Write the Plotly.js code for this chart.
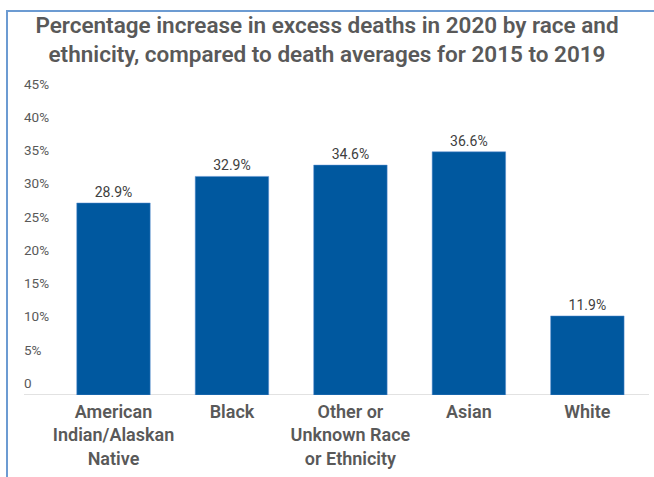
<!DOCTYPE html>
<html>
<head>
<meta charset="utf-8">
<script src="https://cdn.plot.ly/plotly-3.0.1.min.js"></script>
<style>
  html, body { margin: 0; padding: 0; background: #fff; }
  #wrap { position: relative; width: 654px; height: 477px; }
  #chart { position: absolute; left: 0; top: 0; width: 654px; height: 477px; }
  #frame { position: absolute; left: 6px; top: 10px; width: 648px; height: 467px;
           border-left: 2px solid #6c9bd2; border-top: 2px solid #6c9bd2; box-sizing: border-box; pointer-events: none; }
</style>
</head>
<body>
<div id="wrap">
  <div id="chart"></div>
  <div id="frame"></div>
</div>
<script>
const categories = ['American<br>Indian/Alaskan<br>Native', 'Black', 'Other or<br>Unknown Race<br>or Ethnicity', 'Asian', 'White'];
const values = [28.9, 32.9, 34.6, 36.6, 11.9];
const valueLabels = ['28.9%', '32.9%', '34.6%', '36.6%', '11.9%'];
const tickValues = [0, 5, 10, 15, 20, 25, 30, 35, 40, 45];
const tickLabels = ['0', '5%', '10%', '15%', '20%', '25%', '30%', '35%', '40%', '45%'];

const W = 654, H = 477;
const padL = 20, padR = 5;
const paperW = W - padL - padR;
const plotX0 = 54.25, plotX1 = 646.6;
const axisLineX0 = 24, axisLineX1 = 649;

const trace = {
  type: 'bar',
  x: categories,
  y: values,
  text: valueLabels,
  textposition: 'outside',
  cliponaxis: false,
  textfont: { family: 'Roboto, sans-serif', size: 14, color: '#404040' },
  marker: { color: '#00589f', line: { color: '#5b8fd0', width: 0.5 } },
  hoverinfo: 'skip'
};

const layout = {
  width: W, height: H,
  margin: { l: padL, r: padR, t: 96, b: 82, pad: 0 },
  paper_bgcolor: '#ffffff',
  plot_bgcolor: '#ffffff',
  showlegend: false,
  bargap: 0.38,
  title: {
    text: 'Percentage increase in excess deaths in 2020 by race and<br>ethnicity, compared to death averages for 2015 to 2019',
    font: { family: 'Roboto, sans-serif', size: 22.5, color: '#595959', weight: 600 },
    xref: 'container', x: 0.5, xanchor: 'center',
    yref: 'container', y: 1 - 33 / H, yanchor: 'top'
  },
  xaxis: {
    domain: [(plotX0 - padL) / paperW, (plotX1 - padL) / paperW],
    showline: false, showgrid: false, zeroline: false, ticks: '',
    ticklabelstandoff: 4,
    tickfont: { family: '"Liberation Sans Narrow", Roboto, sans-serif', size: 18, color: '#595959', weight: 600 },
    fixedrange: true
  },
  yaxis: {
    range: [0, 45],
    anchor: 'free', position: 0,
    tickmode: 'array', tickvals: tickValues, ticktext: tickLabels,
    ticklabelposition: 'inside',
    ticklabeloverflow: 'allow',
    ticklabelshift: -12,
    ticks: '',
    showgrid: false, zeroline: false, showline: false,
    tickfont: { family: 'Roboto, sans-serif', size: 13.5, color: '#595959' },
    fixedrange: true
  },
  shapes: [{
    type: 'line', xref: 'paper', yref: 'y',
    x0: (axisLineX0 - padL) / paperW, x1: (axisLineX1 - padL) / paperW, y0: 0, y1: 0,
    line: { color: '#d9d9d9', width: 1.5 },
    layer: 'below'
  }]
};

Plotly.newPlot('chart', [trace], layout, { displayModeBar: false, staticPlot: true });
</script>
</body>
</html>
